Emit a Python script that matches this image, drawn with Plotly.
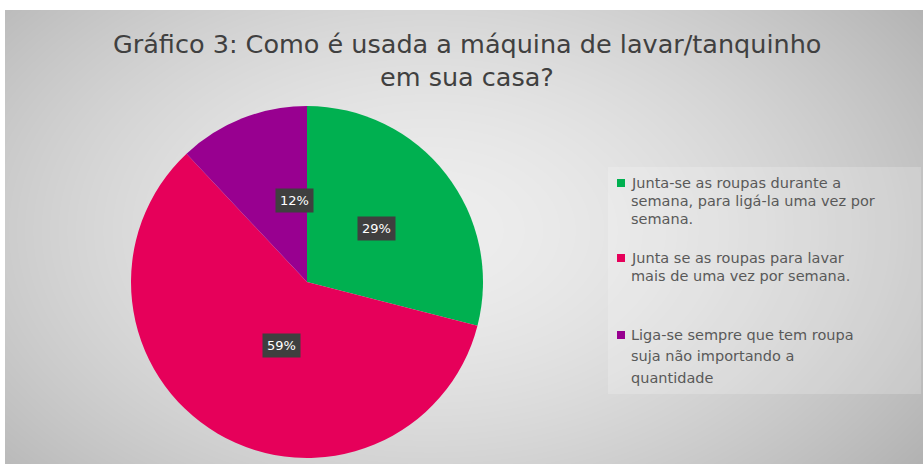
import base64
import struct
import zlib

import numpy as np
import plotly.graph_objects as go

# ---- data ----
categories = [
    "Junta-se as roupas durante a<br>semana, para ligá-la uma vez por<br>semana.",
    "Junta se as roupas para lavar<br>mais de uma vez por semana.",
    "Liga-se sempre que tem roupa<br>suja não importando a<br>quantidade",
]
shares = [29, 59, 12]
slice_colors = ["#00B050", "#E6005A", "#980090"]
title_lines = ["Gráfico 3: Como é usada a máquina de lavar/tanquinho", "em sua casa?"]

W, H = 923, 464


def png_data_uri(gray):
    """Encode a 2-D uint8 array as a grayscale PNG data URI."""
    h, w = gray.shape
    raw = b"".join(b"\x00" + gray[r].tobytes() for r in range(h))

    def chunk(tag, payload):
        c = struct.pack(">I", len(payload)) + tag + payload
        return c + struct.pack(">I", zlib.crc32(tag + payload) & 0xFFFFFFFF)

    png = b"\x89PNG\r\n\x1a\n"
    png += chunk(b"IHDR", struct.pack(">IIBBBBB", w, h, 8, 0, 0, 0, 0))
    png += chunk(b"IDAT", zlib.compress(raw, 9))
    png += chunk(b"IEND", b"")
    return "data:image/png;base64," + base64.b64encode(png).decode()


# soft radial grey backdrop with a white strip along the top and left edges
yy, xx = np.mgrid[0:H, 0:W].astype(float)
t = np.sqrt(((xx - 430) / 560) ** 2 + ((yy - 230) / 360) ** 2)
bg = 238 - 52 * np.clip(t, 0, 1.2) ** 1.6
bg[:10, :] = 255
bg[:, :5] = 255
bg = np.clip(bg, 0, 255).astype(np.uint8)

# pie placement (pixels)
cx, cy, R = 307, 282, 176
dom_x = [(cx - R) / W, (cx + R) / W]
dom_y = [1 - (cy + R) / H, 1 - (cy - R) / H]

fig = go.Figure(
    go.Pie(
        labels=categories,
        values=shares,
        sort=False,
        direction="clockwise",
        rotation=0,
        marker=dict(colors=slice_colors, line=dict(width=0)),
        textinfo="none",
        hoverinfo="label+percent",
        showlegend=False,
        domain=dict(x=dom_x, y=dom_y),
    )
)

annotations = []
shapes = []

# chart title, two centred lines
for line, ymid in zip(title_lines, [44, 77]):
    annotations.append(
        dict(x=(110 + 823) / 2 / W, y=1 - ymid / H, xref="paper", yref="paper",
             xanchor="center", yanchor="middle", text=line, showarrow=False,
             font=dict(family="DejaVu Sans", size=25.5, color="#404040"))
    )

# percentage labels at half radius, at each slice's mid angle
total = sum(shares)
start = 0.0
for v in shares:
    mid = (start + v / 2) / total * 2 * np.pi
    start += v
    px = cx + 0.5 * R * np.sin(mid)
    py = cy - 0.5 * R * np.cos(mid)
    annotations.append(
        dict(
            x=px / W, y=1 - py / H, xref="paper", yref="paper",
            text=f"{round(v / total * 100)}%", showarrow=False,
            font=dict(family="DejaVu Sans", size=13, color="white"),
            bgcolor="#3F3F3F", borderpad=4,
        )
    )

# legend panel
shapes.append(
    dict(type="rect", xref="paper", yref="paper",
         x0=608 / W, x1=921 / W, y0=1 - 394 / H, y1=1 - 167 / H,
         fillcolor="rgba(255,255,255,0.2)", line=dict(width=0), layer="below")
)
line_rows = [[183, 201, 219], [258, 276], [335, 356, 378]]
for label, color, rows in zip(categories, slice_colors, line_rows):
    ytop = rows[0]
    shapes.append(
        dict(type="rect", xref="paper", yref="paper",
             x0=617 / W, x1=625 / W, y0=1 - (ytop + 4) / H, y1=1 - (ytop - 4) / H,
             fillcolor=color, line=dict(width=0))
    )
    for part, ymid in zip(label.split("<br>"), rows):
        annotations.append(
            dict(
                x=629 / W, y=1 - ymid / H, xref="paper", yref="paper",
                xanchor="left", yanchor="middle", align="left",
                text=part, showarrow=False,
                font=dict(family="DejaVu Sans", size=14.5, color="#595959"),
            )
        )

fig.update_layout(
    width=W,
    height=H,
    margin=dict(l=0, r=0, t=0, b=0),
    paper_bgcolor="#DCDCDC",
    images=[
        dict(source=png_data_uri(bg), xref="paper", yref="paper",
             x=0, y=1, sizex=1, sizey=1, sizing="stretch",
             xanchor="left", yanchor="top", layer="below")
    ],
    annotations=annotations,
    shapes=shapes,
)

fig.write_html("out.html")
